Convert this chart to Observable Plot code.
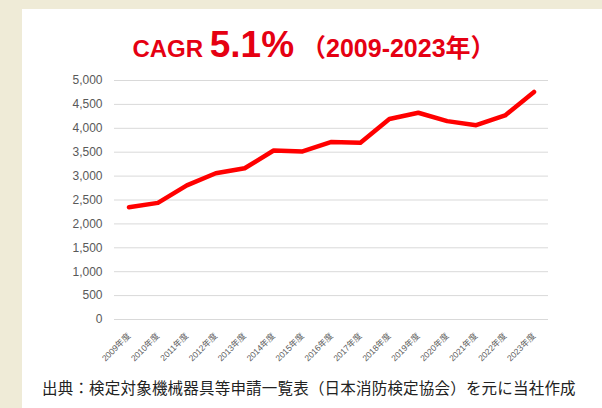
<!DOCTYPE html>
<html>
<head>
<meta charset="utf-8">
<script src="https://cdn.jsdelivr.net/npm/d3@7"></script>
<script src="https://cdn.jsdelivr.net/npm/@observablehq/plot@0.6"></script>
<style>
  html, body { margin: 0; padding: 0; }
  body { width: 602px; height: 408px; background: #efebd7; position: relative; overflow: hidden;
         font-family: "Liberation Sans", Arial, "Noto Sans CJK JP", sans-serif; }
  #panel { position: absolute; left: 22px; top: 9px; width: 580px; height: 399px; background: #ffffff; }
  #title { position: absolute; left: 24px; width: 580px; top: 25px; text-align: center; color: #e50012;
           font-weight: bold; white-space: nowrap; line-height: 40px; height: 40px;
           font-family: "Liberation Sans", Arial, "Noto Sans CJK JP", sans-serif; }
  #title .s { font-size: 24px; }
  #title .p { font-size: 25px; }
  #title .b { font-size: 37px; }
  #chart { position: absolute; left: 0; top: 0; }
  #caption { position: absolute; left: 42px; top: 376px; font-size: 15.5px; color: #222;
             white-space: nowrap; letter-spacing: 0.2px; line-height: 22px;
             font-family: "Noto Sans CJK JP", sans-serif; }
</style>
</head>
<body>
<div id="panel"></div>
<div id="title"><span class="s">CAGR </span><span class="b">5.1%</span><span class="p"> （2009-2023年）</span></div>
<div id="chart"></div>
<div id="caption">出典：検定対象機械器具等申請一覧表（日本消防検定協会）を元に当社作成</div>
<script>
const years = ["2009年度","2010年度","2011年度","2012年度","2013年度","2014年度","2015年度","2016年度",
               "2017年度","2018年度","2019年度","2020年度","2021年度","2022年度","2023年度"];
const values = [2350, 2440, 2805, 3060, 3165, 3535, 3515, 3715, 3700, 4195, 4325, 4150, 4065, 4270, 4760];
const yTicks = [0, 500, 1000, 1500, 2000, 2500, 3000, 3500, 4000, 4500, 5000];

const data = years.map((y, i) => ({year: y, value: values[i]}));

const chart = Plot.plot({
  width: 602,
  height: 380,
  marginTop: 80,
  marginLeft: 114,
  marginRight: 54,
  marginBottom: 61,
  style: { background: "transparent", fontFamily: "Liberation Sans, Arial, Noto Sans CJK JP, sans-serif" },
  x: { type: "point", domain: years, padding: 0.5, round: false, label: null },
  y: { domain: [0, 5000], ticks: yTicks, label: null, tickFormat: d3.format(",") },
  marks: [
    Plot.ruleY(yTicks, { stroke: "#d9d9d9", strokeWidth: 1 }),
    Plot.axisY({ ticks: yTicks, tickSize: 0, tickPadding: 12, fontSize: 12, fill: "#595959", tickFormat: d3.format(","), label: null }),
    Plot.axisX({ tickSize: 0, tickRotate: -45, tickPadding: 15, fontSize: 8.5, fill: "#595959", label: null }),
    Plot.line(data, { x: "year", y: "value", stroke: "#ff0000", strokeWidth: 4.5, strokeLinejoin: "round", strokeLinecap: "round" })
  ]
});
document.getElementById("chart").appendChild(chart);
</script>
</body>
</html>
